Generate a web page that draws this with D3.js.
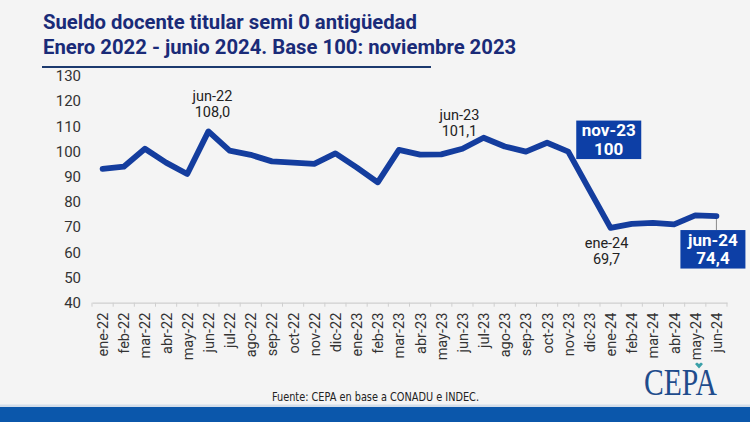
<!DOCTYPE html>
<html>
<head>
<meta charset="utf-8">
<script src="https://cdn.jsdelivr.net/npm/d3@7"></script>
<style>
  body { margin: 0; background: #f4f4f4; }
  svg { display: block; font-family: Roboto, "Noto Sans", sans-serif; }
</style>
</head>
<body>
<script>
var months = ["ene-22", "feb-22", "mar-22", "abr-22", "may-22", "jun-22", "jul-22", "ago-22", "sep-22", "oct-22", "nov-22", "dic-22",
  "ene-23", "feb-23", "mar-23", "abr-23", "may-23", "jun-23", "jul-23", "ago-23", "sep-23", "oct-23", "nov-23", "dic-23",
  "ene-24", "feb-24", "mar-24", "abr-24", "may-24", "jun-24"];
var sueldo = [93.1, 94.0, 101.1, 95.6, 91.1, 108.0, 100.4, 98.7, 96.1, 95.6, 95.1, 99.3,
  93.7, 87.8, 100.7, 98.8, 98.9, 101.1, 105.5, 102.0, 100.0, 103.5, 100.0, 84.8,
  69.7, 71.3, 71.7, 71.1, 74.7, 74.4];
var yTicks = [40, 50, 60, 70, 80, 90, 100, 110, 120, 130];

// plain labels above/below points
var notes = [
  { m: "jun-22", txt: "108,0", dx: 4, dy: -30 },
  { m: "jun-23", txt: "101,1", dx: -3, dy: -29 },
  { m: "ene-24", txt: "69,7", dx: -4, dy: 20 }
];
// boxed labels
var boxes = [
  { m: "nov-23", txt: "100", x0: 8, y0: -31 },
  { m: "jun-24", txt: "74,4", x0: -36, y0: 14 }
];

var W = 750, H = 422;
var svg = d3.select("body").append("svg")
  .attr("width", W)
  .attr("height", H);

svg.append("rect").attr("width", W).attr("height", H).attr("fill", "#f4f4f4");

// title
var title = svg.append("text")
  .attr("fill", "#1a2b78")
  .style("font-weight", "bold")
  .style("font-size", "20.3px");
title.append("tspan").attr("x", 43).attr("y", 28.5).text("Sueldo docente titular semi 0 antigüedad");
title.append("tspan").attr("x", 43).attr("y", 54).text("Enero 2022 - junio 2024. Base 100: noviembre 2023");

svg.append("line")
  .attr("x1", 42).attr("x2", 431)
  .attr("y1", 67).attr("y2", 67)
  .attr("stroke", "#1c3a6e")
  .attr("stroke-width", 2);

var x = d3.scaleBand().domain(months).range([92, 727]);
var y = d3.scaleLinear().domain([40, 130]).range([302.7, 76]);
var cx = function (m) { return x(m) + x.bandwidth() / 2; };

// y labels
svg.selectAll(".ylab")
  .data(yTicks)
  .enter()
  .append("text")
  .attr("class", "ylab")
  .attr("x", 81)
  .attr("y", function (d) { return y(d); })
  .attr("dy", "0.35em")
  .attr("text-anchor", "end")
  .attr("fill", "#333")
  .style("font-size", "15px")
  .text(function (d) { return d; });

// x axis
var xAxis = svg.append("g")
  .attr("transform", "translate(0," + y(40) + ")")
  .call(d3.axisBottom(x).tickSize(0).tickPadding(0));
xAxis.select(".domain").attr("stroke", "#cfcfcf").attr("stroke-width", 1.2);
xAxis.selectAll(".tick text")
  .attr("transform", "rotate(-90)")
  .attr("x", -10)
  .attr("y", 0)
  .attr("dy", "0.38em")
  .attr("text-anchor", "end")
  .attr("fill", "#333")
  .style("font-size", "14.5px")
  .style("font-family", "Roboto, sans-serif");

// small ticks on band edges
var edges = months.map(function (m) { return x(m); }).concat([x.range()[1]]);
svg.selectAll(".edge")
  .data(edges)
  .enter()
  .append("line")
  .attr("x1", function (d) { return d; })
  .attr("x2", function (d) { return d; })
  .attr("y1", y(40))
  .attr("y2", y(40) + 4)
  .attr("stroke", "#cfcfcf");

// line
var line = d3.line()
  .x(function (d, i) { return cx(months[i]); })
  .y(function (d) { return y(d); });

svg.append("path")
  .datum(sueldo)
  .attr("d", line)
  .attr("fill", "none")
  .attr("stroke", "#143d9e")
  .attr("stroke-width", 5.8)
  .attr("stroke-linejoin", "round")
  .attr("stroke-linecap", "round");

// plain notes
notes.forEach(function (n) {
  var i = months.indexOf(n.m);
  var px = cx(n.m) + n.dx, py = y(sueldo[i]) + n.dy;
  var t = svg.append("text")
    .attr("text-anchor", "middle")
    .attr("fill", "#222")
    .style("font-size", "14.5px");
  t.append("tspan").attr("x", px).attr("y", py).text(n.m);
  t.append("tspan").attr("x", px).attr("y", py + 16).text(n.txt);
});

// boxed notes
boxes.forEach(function (b) {
  var i = months.indexOf(b.m);
  var px = cx(b.m), py = y(sueldo[i]);
  var bx = px + b.x0, by = py + b.y0, bw = 65, bh = 38.5;
  if (b.m == "jun-24") {
    svg.append("line")
      .attr("x1", px).attr("x2", px)
      .attr("y1", py + 3).attr("y2", by)
      .attr("stroke", "#8a8a8a");
  }
  svg.append("rect")
    .attr("x", bx).attr("y", by)
    .attr("width", bw).attr("height", bh)
    .attr("fill", "#0d3fa6");
  var t = svg.append("text")
    .attr("text-anchor", "middle")
    .attr("fill", "#fff")
    .style("font-weight", "bold")
    .style("font-size", "17px");
  t.append("tspan").attr("x", bx + bw / 2).attr("y", by + 15.5).text(b.m);
  t.append("tspan").attr("x", bx + bw / 2).attr("y", by + 34).text(b.txt);
});

// source
svg.append("text")
  .attr("x", 272)
  .attr("y", 401)
  .attr("textLength", 207)
  .attr("lengthAdjust", "spacingAndGlyphs")
  .attr("fill", "#222")
  .style("font-family", "'Liberation Sans Narrow', 'DejaVu Sans Condensed', sans-serif")
  .style("font-size", "13px")
  .text("Fuente: CEPA en base a CONADU e INDEC.");

// logo
svg.append("text")
  .attr("x", 644)
  .attr("y", 395)
  .attr("textLength", 73)
  .attr("lengthAdjust", "spacingAndGlyphs")
  .attr("fill", "#1f4c8c")
  .style("font-family", "'Liberation Serif', 'DejaVu Serif', serif")
  .style("font-size", "37px")
  .text("CEPA");
svg.append("path")
  .attr("d", "M695,364 L699,368.5 L703,364 L701,362.5 L699,364 L697,362.5 Z")
  .attr("fill", "#3aa0a8");

// bottom band
svg.append("rect").attr("x", 0).attr("y", 404.5).attr("width", W).attr("height", 2.5).attr("fill", "#d3dde9");
svg.append("rect").attr("x", 0).attr("y", 407).attr("width", W).attr("height", 15).attr("fill", "#0b57ab");
</script>
</body>
</html>
